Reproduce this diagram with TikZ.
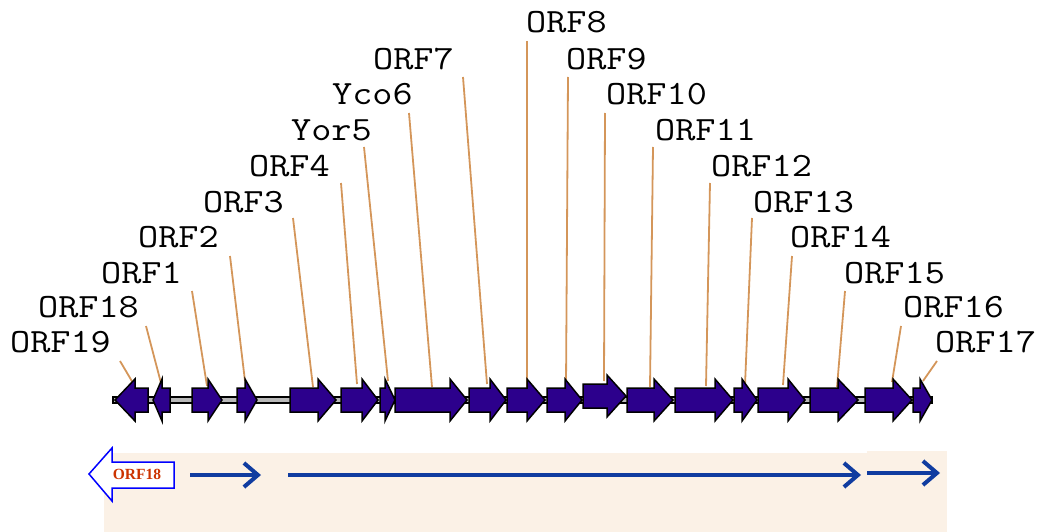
\documentclass[tikz,border=0pt]{standalone}
\usepackage{fontspec}
\usetikzlibrary{arrows.meta}
\newfontfamily\labfont[FakeStretch=1.15]{Latin Modern Mono}
\newfontfamily\boxfont{Liberation Serif}
\definecolor{genefill}{RGB}{44,0,140}
\definecolor{leadcol}{RGB}{212,150,90}
\definecolor{bluearr}{RGB}{16,60,160}
\definecolor{panel}{RGB}{251,241,230}
\definecolor{orfred}{RGB}{204,51,0}
\tikzset{
  lab/.style={anchor=base west,inner sep=0pt,font=\labfont\fontsize{34}{34}\selectfont},
  lead/.style={draw=leadcol,line width=1.8pt},
  genebox/.style={fill=genefill,draw=black,line width=1.5pt,line join=miter},
  flow/.style={draw=bluearr,line width=4pt,-{Straight Barb[length=14pt,width=24pt]}}
}
% right-pointing gene: x0, x1 (head base), xt (tip), dy
\newcommand\gR[4]{\path[genebox] (#1,388+#4)--(#2,388+#4)--(#2,379+#4)--(#3,400+#4)--(#2,421+#4)--(#2,412+#4)--(#1,412+#4)--cycle;}
% left-pointing gene: xt (tip), x1 (head base), x0 (body end)
\newcommand\gL[3]{\path[genebox] (#3,388)--(#2,388)--(#2,379)--(#1,400)--(#2,421)--(#2,412)--(#3,412)--cycle;}
\begin{document}
\begin{tikzpicture}[x=1pt,y=-1pt]
\useasboundingbox (0,0) rectangle (1042,532);
% lower panel
\fill[panel] (104,453) rectangle (947,532);
\fill[panel] (867,451) rectangle (947,453);
% labels
\node[lab] (l19) at (10,352) {ORF19};
\node[lab] (l18) at (38,317) {ORF18};
\node[lab] (l1) at (101,283) {ORF1};
\node[lab] (l2) at (138,247) {ORF2};
\node[lab] (l3) at (203,212) {ORF3};
\node[lab] (l4) at (249,177) {ORF4};
\node[lab] (l5) at (291,141) {Yor5};
\node[lab] (l6) at (332,105) {Yco6};
\node[lab] (l7) at (373,70) {ORF7};
\node[lab] (l8) at (526,33) {ORF8};
\node[lab] (l9) at (566,70) {ORF9};
\node[lab] (l10) at (606,105) {ORF10};
\node[lab] (l11) at (655,141) {ORF11};
\node[lab] (l12) at (711,177) {ORF12};
\node[lab] (l13) at (753,212) {ORF13};
\node[lab] (l14) at (790,247) {ORF14};
\node[lab] (l15) at (844,283) {ORF15};
\node[lab] (l16) at (903,317) {ORF16};
\node[lab] (l17) at (935,352) {ORF17};
% leader end points
\coordinate (s19) at (120,361); \coordinate (e19) at (133,383);
\coordinate (s18) at (146,326); \coordinate (e18) at (161,383);
\coordinate (s1) at (192,291); \coordinate (e1) at (207,386);
\coordinate (s2) at (230,256); \coordinate (e2) at (245,381);
\coordinate (s3) at (293,218); \coordinate (e3) at (313,387);
\coordinate (s4) at (341,183); \coordinate (e4) at (357,384);
\coordinate (s5) at (364,147); \coordinate (e5) at (388,381);
\coordinate (s6) at (409,113); \coordinate (e6) at (432,387);
\coordinate (s7) at (463,77); \coordinate (e7) at (487,384);
\coordinate (s8) at (527,41); \coordinate (e8) at (527,387);
\coordinate (s9) at (568,77); \coordinate (e9) at (566,386);
\coordinate (s10) at (605,113); \coordinate (e10) at (604,381);
\coordinate (s11) at (653,147); \coordinate (e11) at (650,387);
\coordinate (s12) at (710,183); \coordinate (e12) at (706,386);
\coordinate (s13) at (752,218); \coordinate (e13) at (745,385);
\coordinate (s14) at (792,256); \coordinate (e14) at (783,385);
\coordinate (s15) at (845,291); \coordinate (e15) at (837,387);
\coordinate (s16) at (901,326); \coordinate (e16) at (892,382);
\coordinate (s17) at (937,361); \coordinate (e17) at (923,381);
\foreach \k in {19,18,1,2,3,4,5,6,7,8,9,10,11,12,13,14,15,16,17}
  \draw[lead] (s\k) -- (e\k);
% backbone
\filldraw[fill=gray!55,draw=black,line width=1.2pt] (113,397) rectangle (932,403);
% genes
\gL{115}{135}{148}
\gL{153}{162}{170}
\gR{192}{208}{222}{0}
\gR{237}{245}{257}{0}
\gR{290}{318}{336}{0}
\gR{341}{362}{378}{0}
\gR{380}{385}{395}{0}
\gR{395}{450}{467}{0}
\gR{469}{490}{506}{0}
\gR{507}{527}{545}{0}
\gR{547}{565}{582}{0}
\gR{583}{607}{626}{-4}
\gR{627}{654}{673}{0}
\gR{675}{715}{733}{0}
\gR{734}{742}{757}{0}
\gR{758}{788}{805}{0}
\gR{810}{838}{858}{0}
\gR{865}{893}{912}{0}
\gR{913}{920}{932}{0}
% ORF18 hollow arrow
\draw[draw=blue,fill=white,line width=1.5pt] (89,474)--(112,448)--(112,462)--(174,462)--(174,488)--(112,488)--(112,501)--cycle;
\node[inner sep=0pt,text=orfred,font=\boxfont\bfseries\fontsize{15.5}{15.5}\selectfont] (o18) at (137,474) {ORF18};
% flow arrows
\coordinate (a1) at (190,475); \coordinate (b1) at (261,475);
\coordinate (a2) at (288,475); \coordinate (b2) at (861,475);
\coordinate (a3) at (867,473); \coordinate (b3) at (940,473);
\draw[flow] (a1) -- (b1);
\draw[flow] (a2) -- (b2);
\draw[flow] (a3) -- (b3);
\end{tikzpicture}
\end{document}
